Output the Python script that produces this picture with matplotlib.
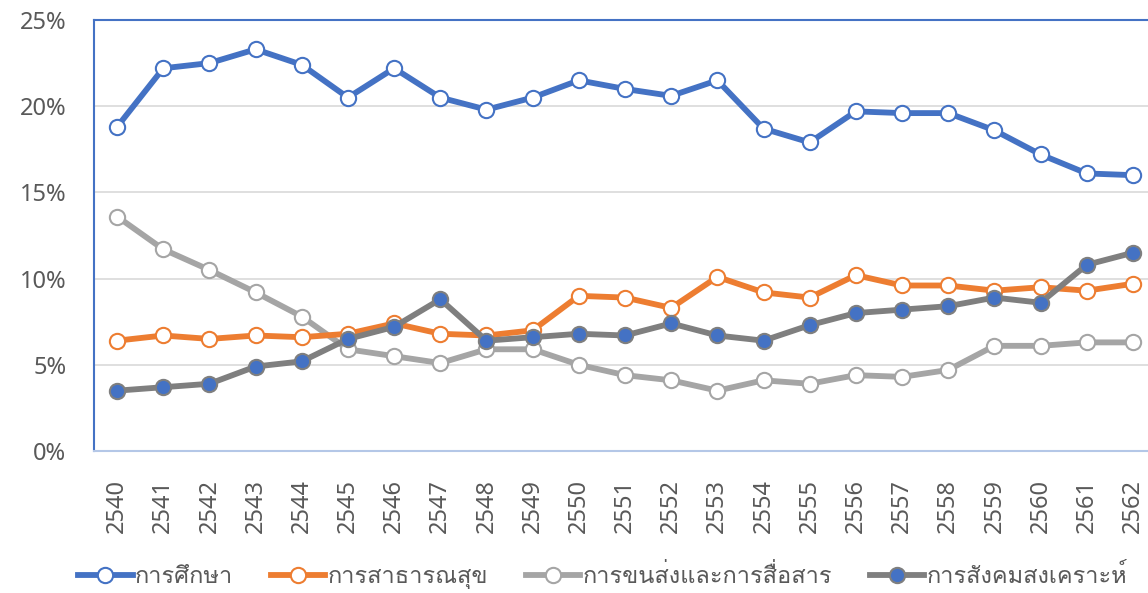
import matplotlib
matplotlib.use("Agg")
import matplotlib.pyplot as plt
from matplotlib import font_manager
from matplotlib.ft2font import FT2Font
from matplotlib.ticker import PercentFormatter

years = [str(y) for y in range(2540, 2563)]

# การศึกษา
edu = [18.8, 22.2, 22.5, 23.3, 22.4, 20.5, 22.2, 20.5, 19.8, 20.5, 21.5, 21.0,
       20.6, 21.5, 18.7, 17.9, 19.7, 19.6, 19.6, 18.6, 17.2, 16.1, 16.0]
# การสาธารณสุข
health = [6.4, 6.7, 6.5, 6.7, 6.6, 6.8, 7.4, 6.8, 6.7, 7.0, 9.0, 8.9,
          8.3, 10.1, 9.2, 8.9, 10.2, 9.6, 9.6, 9.3, 9.5, 9.3, 9.7]
# การขนส่งและการสื่อสาร
transport = [13.6, 11.7, 10.5, 9.2, 7.8, 5.9, 5.5, 5.1, 5.9, 5.9, 5.0, 4.4,
             4.1, 3.5, 4.1, 3.9, 4.4, 4.3, 4.7, 6.1, 6.1, 6.3, 6.3]
# การสังคมสงเคราะห์
welfare = [3.5, 3.7, 3.9, 4.9, 5.2, 6.5, 7.2, 8.8, 6.4, 6.6, 6.8, 6.7,
           7.4, 6.7, 6.4, 7.3, 8.0, 8.2, 8.4, 8.9, 8.6, 10.8, 11.5]

labels = ["การศึกษา", "การสาธารณสุข", "การขนส่งและการสื่อสาร", "การสังคมสงเคราะห์"]


def thai_font():
    # หาฟอนต์ที่มีอักษรไทย
    for f in font_manager.fontManager.ttflist:
        try:
            if 0x0E01 in FT2Font(f.fname).get_charmap():
                return f.name
        except Exception:
            pass
    return "DejaVu Sans"


thai = thai_font()

fig = plt.figure(figsize=(11.48, 5.93), dpi=100)
ax = fig.add_axes([94 / 1148, 1 - 451 / 593, (1156 - 94) / 1148, (451 - 20) / 593])

x = range(len(years))
ax.plot(x, edu, color="#4472C4", lw=4.2, marker="o", ms=11, mfc="white",
        mec="#4472C4", mew=1.5, label=labels[0], zorder=5)
ax.plot(x, health, color="#ED7D31", lw=4.2, marker="o", ms=11, mfc="white",
        mec="#ED7D31", mew=1.5, label=labels[1], zorder=4)
ax.plot(x, transport, color="#A5A5A5", lw=4.2, marker="o", ms=11, mfc="white",
        mec="#A5A5A5", mew=1.5, label=labels[2], zorder=3)
ax.plot(x, welfare, color="#7F7F7F", lw=4.2, marker="o", ms=11, mfc="#4472C4",
        mec="#7F7F7F", mew=1.5, label=labels[3], zorder=4)

ax.set_xlim(-0.5, len(years) - 0.5)
ax.set_ylim(0, 25)
ax.set_yticks([0, 5, 10, 15, 20, 25])
ax.yaxis.set_major_formatter(PercentFormatter(decimals=0))
ax.set_xticks(list(x))
ax.set_xticklabels(years, rotation=90)
ax.tick_params(axis="both", length=0, colors="#595959", labelsize=17)
ax.tick_params(axis="y", pad=20)
ax.tick_params(axis="x", pad=20)
for lab in ax.get_xticklabels() + ax.get_yticklabels():
    lab.set_family("Noto Sans")

ax.grid(axis="y", color="#D9D9D9", lw=1.2)
ax.set_axisbelow(True)
ax.spines["left"].set_color("#4472C4")
ax.spines["top"].set_color("#4472C4")
ax.spines["right"].set_color("#4472C4")
ax.spines["bottom"].set_color("#B4C7E7")
for s in ax.spines.values():
    s.set_linewidth(1.5)

fig.legend(loc="center", bbox_to_anchor=(0.525, 0.027), ncol=4, frameon=False,
           prop={"family": [thai, "DejaVu Sans"], "size": 17},
           handlelength=2.3, handletextpad=0.1, columnspacing=1.6,
           labelcolor="#595959")

fig.savefig("out.png", dpi=100)
